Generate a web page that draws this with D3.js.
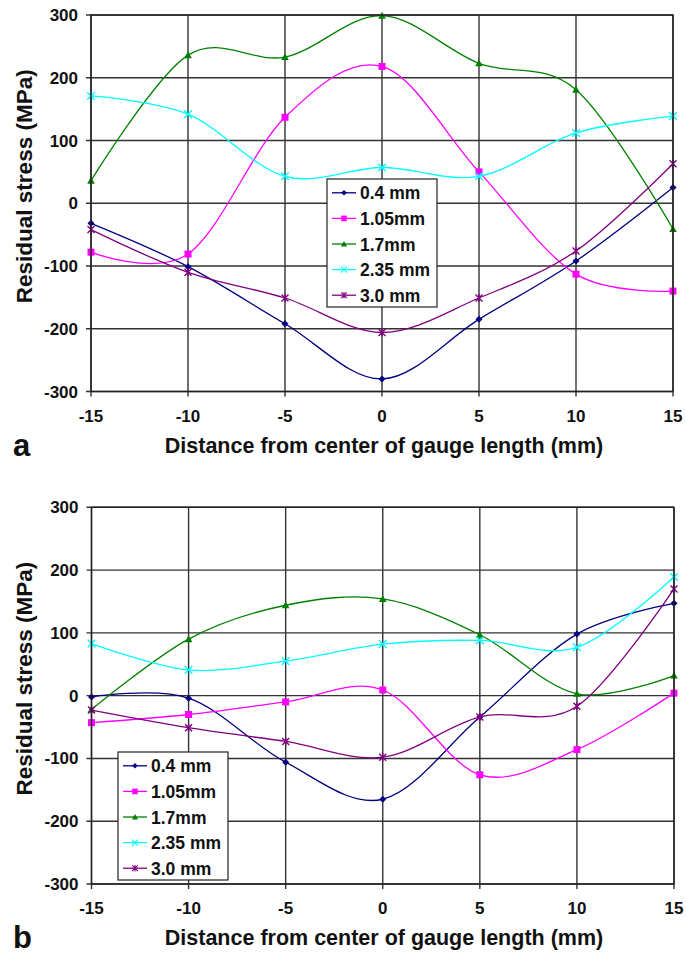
<!DOCTYPE html>
<meta charset="utf-8">
<script src="https://d3js.org/d3.v7.min.js"></script>
<style>
  body { margin: 0; background: #fff; }
  text { font-family: "Liberation Sans", Arial, sans-serif; font-weight: bold; fill: #111; }
</style>
<div id="chart"></div>
<script>

// positions along the specimen (mm)
var distance = [-15, -10, -5, 0, 5, 10, 15];
var yTicks = [-300, -200, -100, 0, 100, 200, 300];
var seriesNames = ["0.4 mm", "1.05mm", "1.7mm", "2.35 mm", "3.0 mm"];

// panel a: residual stress (MPa)
var a04  = [-32, -101, -192, -280, -185, -92, 25];
var a105 = [-78, -81, 137, 218, 50, -113, -140];
var a17  = [36, 236, 233, 299, 223, 181, -41];
var a235 = [171, 142, 43, 57, 43, 112, 139];
var a30  = [-42, -110, -151, -206, -151, -76, 63];

// panel b: residual stress (MPa)
var b04  = [-2, -4, -106, -165, -34, 98, 147];
var b105 = [-43, -30, -10, 9, -126, -86, 4];
var b17  = [-22, 90, 144, 154, 97, 3, 32];
var b235 = [83, 41, 55, 82, 88, 77, 189];
var b30  = [-23, -51, -73, -98, -34, -17, 170];

var colors = ["#000080", "#ff00ff", "#008000", "#00ffff", "#800080"];

var svg = d3.select("#chart").append("svg")
    .attr("width", 686)
    .attr("height", 962);

// marker shapes like the spreadsheet defaults
function marker(sel, i) {
  var c = colors[i];
  if (i == 0) {
    sel.append("path").attr("d", "M0,-3.5L3.5,0L0,3.5L-3.5,0Z").attr("fill", c);
  } else if (i == 1) {
    sel.append("rect").attr("x", -3.5).attr("y", -3.5).attr("width", 7).attr("height", 7).attr("fill", c);
  } else if (i == 2) {
    sel.append("path").attr("d", "M0,-3.8L3.8,3L-3.8,3Z").attr("fill", c);
  } else if (i == 3) {
    sel.append("path").attr("d", "M-3.8,-3.8L3.8,3.8M-3.8,3.8L3.8,-3.8").attr("stroke", c).attr("stroke-width", 1.4);
  } else {
    sel.append("path").attr("d", "M-3.5,-3.5L3.5,3.5M-3.5,3.5L3.5,-3.5M0,-4L0,4").attr("stroke", c).attr("stroke-width", 1.4);
  }
}

function drawPanel(cfg) {
  var x = d3.scaleLinear().domain([-15, 15]).range([cfg.left, cfg.right]);
  var y = d3.scaleLinear().domain([-300, 300]).range([cfg.bottom, cfg.top]);
  var g = svg.append("g");

  // grid lines + small outside ticks
  g.append("g").selectAll("line").data(yTicks).enter().append("line")
    .attr("x1", cfg.left - 5).attr("x2", cfg.right)
    .attr("y1", d => y(d)).attr("y2", d => y(d))
    .attr("stroke", "#333").attr("stroke-width", 1.4);
  g.append("g").selectAll("line").data(distance).enter().append("line")
    .attr("x1", d => x(d)).attr("x2", d => x(d))
    .attr("y1", cfg.top).attr("y2", cfg.bottom + 5)
    .attr("stroke", "#333").attr("stroke-width", 1.4);

  // tick labels
  g.append("g").selectAll("text").data(yTicks).enter().append("text")
    .attr("x", cfg.left - 13).attr("y", d => y(d) + 6)
    .attr("text-anchor", "end").style("font-size", "17px")
    .text(d => d);
  g.append("g").selectAll("text").data(distance).enter().append("text")
    .attr("x", d => x(d)).attr("y", cfg.bottom + 30)
    .attr("text-anchor", "middle").style("font-size", "17px")
    .text(d => d);

  // axis titles
  g.append("text")
    .attr("transform", "translate(32," + ((cfg.top + cfg.bottom) / 2 - 17) + ") rotate(-90)")
    .attr("text-anchor", "middle").style("font-size", "22.5px")
    .text("Residual stress (MPa)");
  g.append("text")
    .attr("x", 384).attr("y", cfg.bottom + 61)
    .attr("text-anchor", "middle").style("font-size", "21.5px")
    .text("Distance from center of gauge length (mm)");
  g.append("text")
    .attr("x", 13).attr("y", cfg.bottom + 64)
    .style("font-size", "31px")
    .text(cfg.label);

  // series
  var line = d3.line()
    .x((d, i) => x(distance[i]))
    .y(d => y(d))
    .curve(d3.curveCardinal.tension(0));

  cfg.series.forEach(function(vals, i) {
    g.append("path").datum(vals)
      .attr("d", line)
      .attr("fill", "none")
      .attr("stroke", colors[i])
      .attr("stroke-width", 1.3);
    vals.forEach(function(v, j) {
      var m = g.append("g").attr("transform", "translate(" + x(distance[j]) + "," + y(v) + ")");
      marker(m, i);
    });
  });

  // plot frame
  g.append("rect")
    .attr("x", cfg.left).attr("y", cfg.top)
    .attr("width", cfg.right - cfg.left).attr("height", cfg.bottom - cfg.top)
    .attr("fill", "none").attr("stroke", "#222").attr("stroke-width", 1.4);

  // legend
  var lg = g.append("g").attr("transform", "translate(" + cfg.legend[0] + "," + cfg.legend[1] + ")");
  lg.append("rect").attr("width", 110).attr("height", 128)
    .attr("fill", "#fff").attr("stroke", "#222").attr("stroke-width", 1.2);
  seriesNames.forEach(function(name, i) {
    var yy = 13.8 + i * 25.6;
    lg.append("line").attr("x1", 5).attr("x2", 29).attr("y1", yy).attr("y2", yy)
      .attr("stroke", colors[i]).attr("stroke-width", 1.3);
    marker(lg.append("g").attr("transform", "translate(17," + yy + ") scale(0.8)"), i);
    lg.append("text").attr("x", 33).attr("y", yy + 6.5)
      .style("font-size", "17.5px").text(name);
  });
}

drawPanel({
  left: 91, right: 673, top: 15, bottom: 391.5, label: "a",
  series: [a04, a105, a17, a235, a30], legend: [327, 179]
});
drawPanel({
  left: 91.5, right: 674, top: 507.3, bottom: 884, label: "b",
  series: [b04, b105, b17, b235, b30], legend: [118, 752]
});

</script>
